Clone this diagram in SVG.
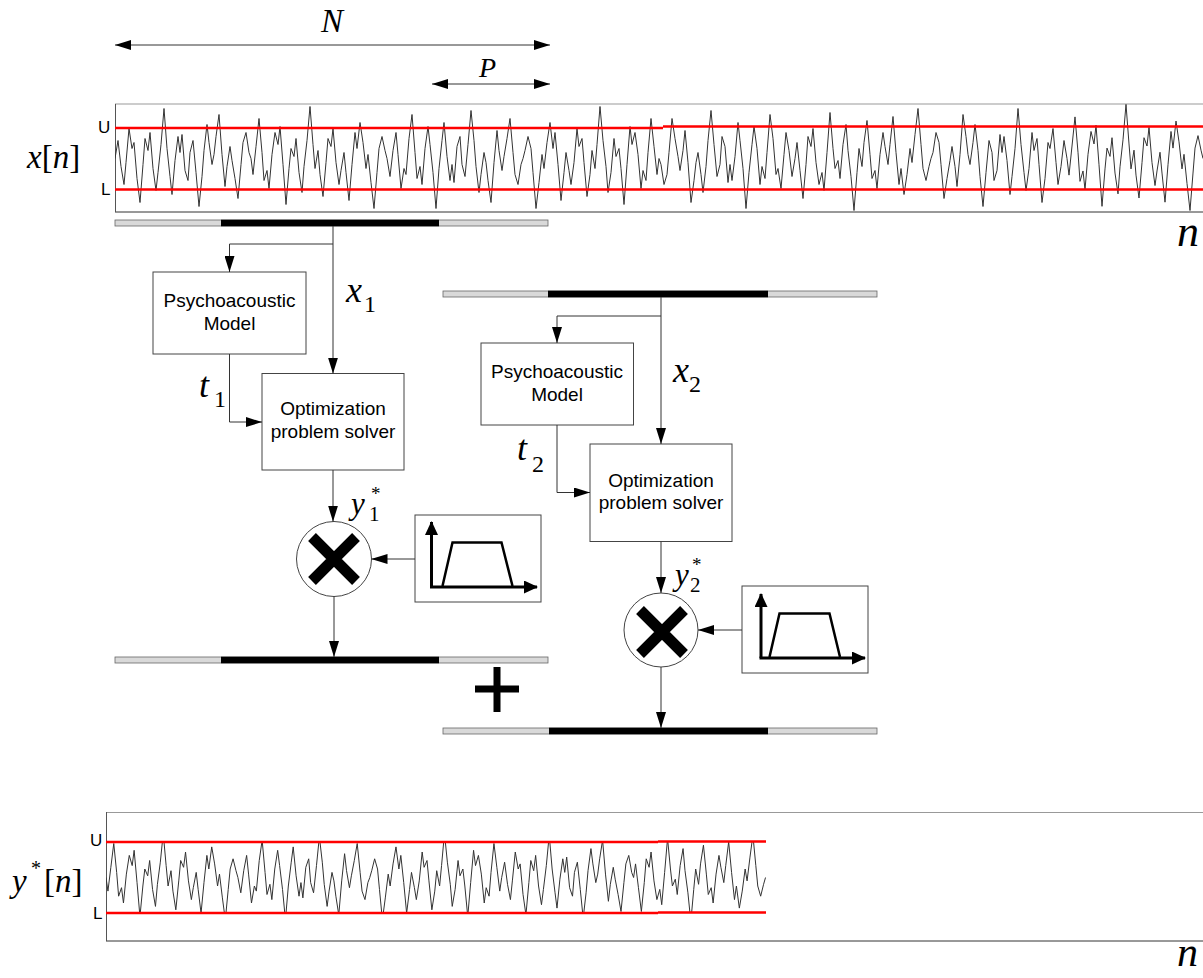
<svg xmlns="http://www.w3.org/2000/svg" xmlns:xlink="http://www.w3.org/1999/xlink" width="1203" height="978" viewBox="0 0 1203 978">
<style>
.sig{fill:none;stroke:#333;stroke-width:1;vector-effect:non-scaling-stroke;stroke-linejoin:round}
.red{stroke:#ff0000;stroke-width:2.5;fill:none}
.box{fill:#fff;stroke:#444;stroke-width:1}
.conn{fill:none;stroke:#333;stroke-width:1}
.bar{fill:#d9d9d9;stroke:#666;stroke-width:0.8}
.barb{fill:#000}
.sans{font-family:"Liberation Sans",Arial,sans-serif;font-size:19px;fill:#000}
.ul{font-family:"Liberation Sans",Arial,sans-serif;font-size:17px;fill:#000}
.math{font-family:"Liberation Serif","Times New Roman",serif;font-style:italic;fill:#000}
.up{font-family:"Liberation Serif","Times New Roman",serif;font-style:normal;fill:#000}
.axis{stroke:#000;stroke-width:3;fill:none}
.trap{stroke:#000;stroke-width:2.5;fill:none;stroke-linejoin:miter}
.cross{stroke:#000;stroke-width:11}
</style>
<defs>
<marker id="ah" markerUnits="userSpaceOnUse" markerWidth="16" markerHeight="10" refX="16" refY="5" orient="auto-start-reverse" viewBox="0 0 16 10">
<path d="M0,0 L16,5 L0,10 z" fill="#000"/>
</marker>
<marker id="ahb" markerUnits="userSpaceOnUse" markerWidth="14" markerHeight="13" refX="13" refY="6.5" orient="auto" viewBox="0 0 14 13">
<path d="M0,0 L14,6.5 L0,13 z" fill="#000"/>
</marker>
<path id="segA" class="sig" d="M0,0 L3,-18 6,8 9,26 11,4 14,-30 17,-10 19,-16 22,20 25,44 28,6 30,-20 33,-8 35,-26 38,10 41,32 43,14 46,-14 49,-50 52,-10 55,18 57,36 60,2 63,-22 65,-6 67,-24 70,12 73,22 75,-6 78,-18 81,14 84,48 87,18 89,-8 92,-34 94,-16 97,6 99,-4 101,-22 104,-44 107,-4 110,28 112,8 115,-12 117,2 120,20 123,40 126,6 128,-16 131,-26 134,-6 136,0"/>
<path id="segB" class="sig" d="M0,0 L2,16 5,-12 8,-40 11,-6 13,22 16,12 18,30 21,-4 24,-26 27,-14 29,-32 32,6 35,46 38,10 40,-10 43,-2 45,-20 48,14 51,34 53,8 56,-18 59,-52 62,-14 64,10 67,-8 69,16 72,38 75,4 77,-20 80,-12 82,-30 85,4 88,26 90,12 93,-6 95,14 98,42 101,6 104,-26 106,-10 109,-36 112,-16 115,10 117,-4 120,24 123,50 126,14 128,-10 131,-22 134,-8 136,0"/>
<clipPath id="clipTop"><rect x="115" y="104" width="1088" height="108"/></clipPath>
<clipPath id="clipBot"><rect x="106" y="842" width="660" height="71"/></clipPath>
</defs>

<g id="sig-top">
<line x1="115" y1="104" x2="1203" y2="104" stroke="#999" stroke-width="1"/>
<line x1="115" y1="212" x2="1203" y2="212" stroke="#333" stroke-width="1"/>
<line x1="115.5" y1="104" x2="115.5" y2="212" stroke="#555" stroke-width="1"/>
<g clip-path="url(#clipTop)">
<use xlink:href="#segA" transform="translate(115,158.5)"/>
<use xlink:href="#segB" transform="translate(251,158.5)"/>
<use xlink:href="#segA" transform="translate(387,158.5) scale(1,-1)"/>
<use xlink:href="#segB" transform="translate(659,158.5) scale(-1,1)"/>
<use xlink:href="#segA" transform="translate(795,158.5) scale(-1,-1)"/>
<use xlink:href="#segB" transform="translate(795,158.5) scale(1,-1)"/>
<use xlink:href="#segA" transform="translate(1067,158.5) scale(-1,1)"/>
<use xlink:href="#segB" transform="translate(1067,158.5) scale(1,1.04)"/>
</g>
<path class="red" d="M115,128 H663 M663,126.5 H1203 M115,189.5 H1203"/>
<text class="ul" x="98" y="133">U</text>
<text class="ul" x="101" y="195">L</text>
<text class="math" x="27" y="168" font-size="33">x<tspan class="up">[</tspan>n<tspan class="up">]</tspan></text>
<text class="math" x="1177" y="246" font-size="44">n</text>
</g>

<g id="window-labels">
<text class="math" x="321" y="32" font-size="33">N</text>
<text class="math" x="479" y="77" font-size="28">P</text>
</g>

<g id="bar1"><rect class="bar" x="115" y="220" width="433" height="6"/><rect class="barb" x="221" y="219.7" width="218" height="6.6"/></g>
<g id="bar2"><rect class="bar" x="443" y="291" width="434" height="6"/><rect class="barb" x="548" y="290.7" width="220" height="6.6"/></g>
<g id="bar3"><rect class="bar" x="115" y="657" width="433" height="6"/><rect class="barb" x="221" y="656.7" width="218" height="6.6"/></g>
<g id="bar4"><rect class="bar" x="443" y="728" width="434" height="6"/><rect class="barb" x="549" y="727.7" width="219" height="6.6"/></g>

<g id="psycho1">
<rect class="box" x="153" y="272" width="153" height="82"/>
<text class="sans" x="229.5" y="307" text-anchor="middle">Psychoacoustic</text>
<text class="sans" x="229.5" y="330" text-anchor="middle">Model</text>
</g>
<g id="opt1">
<rect class="box" x="262" y="373.5" width="142" height="96.5"/>
<text class="sans" x="333" y="415" text-anchor="middle">Optimization</text>
<text class="sans" x="333" y="438" text-anchor="middle">problem solver</text>
</g>
<g id="mult1">
<circle class="box" cx="334" cy="559" r="37.5"/>
<path class="cross" d="M312,537 L356,581 M356,537 L312,581"/>
</g>
<g id="filter1">
<rect class="box" x="415" y="515" width="126" height="87"/>
<path class="axis" d="M431.5,587 V522" marker-end="url(#ahb)"/>
<path class="axis" d="M430,587 H537" marker-end="url(#ahb)"/>
<path class="trap" d="M442.5,586 L452.5,542.5 L501.5,542.5 L512.5,586"/>
</g>

<g id="psycho2">
<rect class="box" x="481" y="343" width="152.5" height="82"/>
<text class="sans" x="557" y="378" text-anchor="middle">Psychoacoustic</text>
<text class="sans" x="557" y="401" text-anchor="middle">Model</text>
</g>
<g id="opt2">
<rect class="box" x="590" y="444" width="142" height="97.5"/>
<text class="sans" x="661" y="487" text-anchor="middle">Optimization</text>
<text class="sans" x="661" y="509" text-anchor="middle">problem solver</text>
</g>
<g id="mult2">
<circle class="box" cx="661" cy="630" r="37"/>
<path class="cross" d="M640,610 L684,654 M684,610 L640,654"/>
</g>
<g id="filter2">
<rect class="box" x="742" y="586" width="126" height="87"/>
<path class="axis" d="M761,658 V594" marker-end="url(#ahb)"/>
<path class="axis" d="M759.5,658 H865" marker-end="url(#ahb)"/>
<path class="trap" d="M769.5,657 L779.5,613.5 L829.5,613.5 L840,657"/>
</g>

<g id="plus">
<path d="M475,689 H519 M497,667 V712" stroke="#000" stroke-width="7"/>
</g>

<g id="connectors">
<path class="conn" d="M115,45 H550" marker-start="url(#ah)" marker-end="url(#ah)"/>
<path class="conn" d="M432,84 H550" marker-start="url(#ah)" marker-end="url(#ah)"/>
<path class="conn" d="M333,226 V373.5" marker-end="url(#ah)"/>
<path class="conn" d="M333,244 H229.5 V272" marker-end="url(#ah)"/>
<path class="conn" d="M229.5,354 V422 H262" marker-end="url(#ah)"/>
<path class="conn" d="M333,470 V521.5" marker-end="url(#ah)"/>
<path class="conn" d="M415,559 H371.5" marker-end="url(#ah)"/>
<path class="conn" d="M334,596.5 V657" marker-end="url(#ah)"/>
<path class="conn" d="M661,297 V444" marker-end="url(#ah)"/>
<path class="conn" d="M661,316 H557 V343" marker-end="url(#ah)"/>
<path class="conn" d="M557,425 V492.5 H590" marker-end="url(#ah)"/>
<path class="conn" d="M661,541.5 V593" marker-end="url(#ah)"/>
<path class="conn" d="M742,630 H698" marker-end="url(#ah)"/>
<path class="conn" d="M661,667 V728" marker-end="url(#ah)"/>
</g>

<g id="signal-labels">
<text class="math" x="346" y="302" font-size="36">x</text>
<text class="up" x="364" y="312" font-size="24">1</text>
<text class="math" x="199" y="397" font-size="36">t</text>
<text class="up" x="214" y="407" font-size="24">1</text>
<text class="math" x="673" y="382" font-size="36">x</text>
<text class="up" x="689" y="392" font-size="24">2</text>
<text class="math" x="517" y="460" font-size="36">t</text>
<text class="up" x="532" y="472" font-size="24">2</text>
<text class="math" x="351" y="514" font-size="31">y</text>
<text class="up" x="369" y="521" font-size="21">1</text>
<text class="up" x="371" y="500" font-size="19">*</text>
<text class="math" x="675" y="585" font-size="31">y</text>
<text class="up" x="690" y="592" font-size="21">2</text>
<text class="up" x="692" y="571" font-size="19">*</text>
</g>

<g id="sig-bottom">
<line x1="106" y1="812.5" x2="1203" y2="812.5" stroke="#999" stroke-width="1"/>
<line x1="106" y1="941" x2="1203" y2="941" stroke="#333" stroke-width="1"/>
<line x1="106.5" y1="812" x2="106.5" y2="941" stroke="#555" stroke-width="1"/>
<g clip-path="url(#clipBot)">
<use xlink:href="#segB" transform="translate(106,877.5) scale(0.97,0.85)"/>
<use xlink:href="#segA" transform="translate(237.9,877.5) scale(0.97,-0.85)"/>
<use xlink:href="#segB" transform="translate(501.7,877.5) scale(-0.97,0.85)"/>
<use xlink:href="#segA" transform="translate(501.7,877.5) scale(0.97,0.85)"/>
<use xlink:href="#segB" transform="translate(633.6,877.5) scale(0.97,-0.85)"/>
</g>
<path class="red" d="M106,842 H658 M658,841.5 H766 M106,913 H658 M658,912.5 H766"/>
<text class="ul" x="90" y="846">U</text>
<text class="ul" x="93" y="919">L</text>
<text class="math" x="12" y="892" font-size="33">y</text>
<text class="up" x="31" y="875" font-size="20">*</text>
<text class="up" x="44" y="892" font-size="33">[<tspan class="math">n</tspan>]</text>
<text class="math" x="1177" y="966" font-size="42">n</text>
</g>
</svg>
